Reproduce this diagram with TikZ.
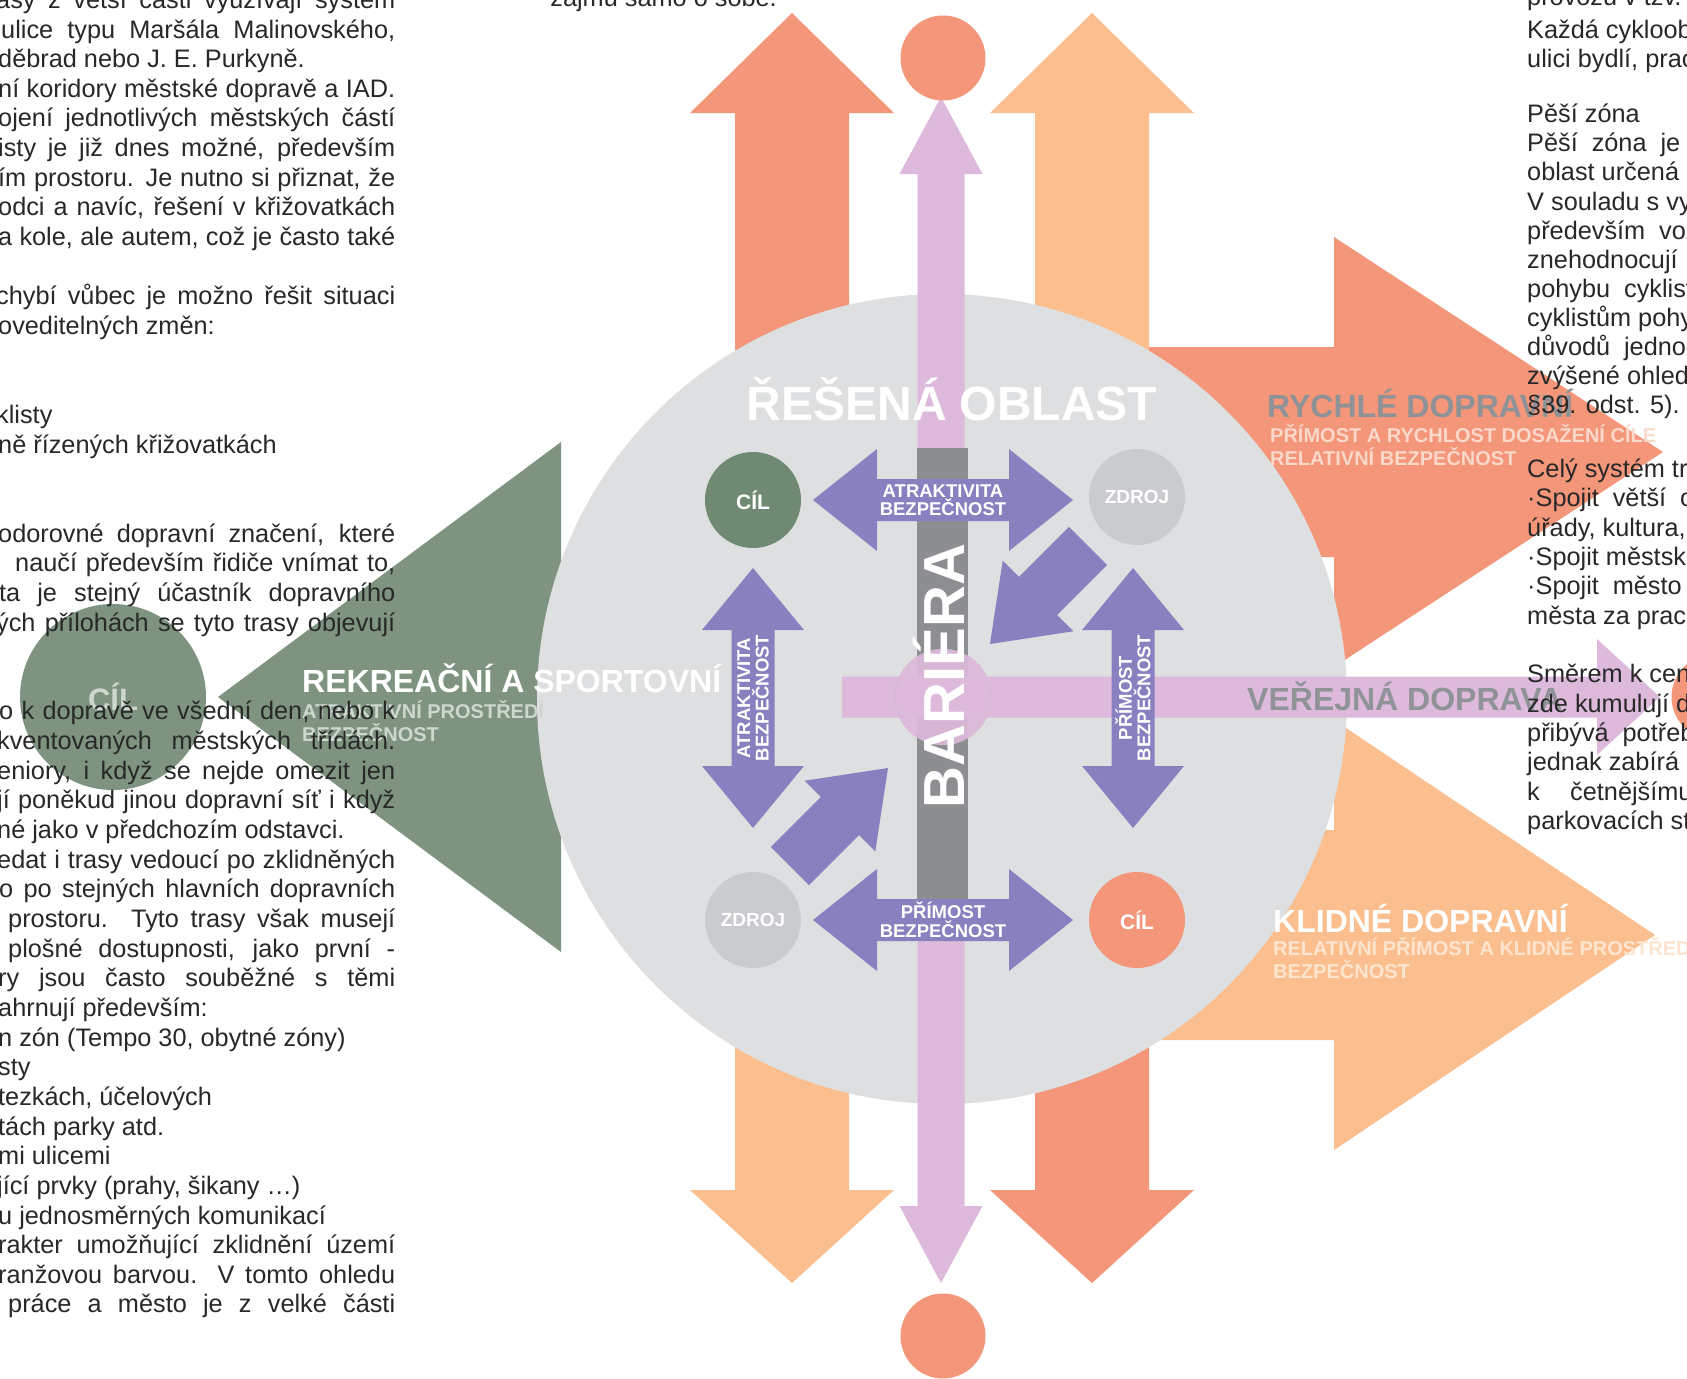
\documentclass[tikz,border=0pt]{standalone}
\usepackage{fontspec}
\setmainfont{Liberation Sans}
\usetikzlibrary{calc}
\definecolor{salmon}{RGB}{243,150,122}
\definecolor{peach}{RGB}{251,191,143}
\definecolor{lilac}{RGB}{221,186,219}
\definecolor{arrowviolet}{RGB}{136,129,191}
\definecolor{areagray}{RGB}{221,223,225}
\definecolor{barriergray}{RGB}{140,142,145}
\definecolor{parkgreen}{RGB}{126,147,128}
\definecolor{goalgreen}{RGB}{112,137,114}
\definecolor{sourcegray}{RGB}{201,203,206}
\definecolor{labelgray}{RGB}{143,146,151}
\definecolor{ink}{RGB}{40,40,40}
\definecolor{salmonlight}{RGB}{250,216,202}
\definecolor{peachlight}{RGB}{253,229,207}
\definecolor{greenlight}{RGB}{206,215,206}
\tikzset{
  bodytext/.style={
    font=\fontsize{25.3}{29.65}\selectfont,
    text=ink,
    inner sep=0pt,
    anchor=base west
  },
  title/.style={
    font=\fontsize{32}{34}\selectfont\bfseries,
    inner sep=0pt,
    anchor=base west
  },
  subtitle/.style={
    font=\fontsize{20}{22}\selectfont\bfseries,
    inner sep=0pt,
    anchor=base west
  },
  arrowtext/.style={
    font=\fontsize{18.5}{18.5}\selectfont\bfseries,
    text=white,
    align=center,
    inner sep=0pt
  },
  goal/.style={
    circle,
    minimum size=96pt,
    inner sep=0pt,
    text=white,
    font=\fontsize{21}{21}\selectfont\bfseries
  },
  endgoal/.style={
    circle,
    fill=salmon,
    minimum size=85pt,
    inner sep=0pt
  }
}
% broad arrow: style, tail, tip, shaft half width, head half width, head length
\newcommand{\fatarrow}[6]{%
  \coordinate (fa-t) at #2;
  \coordinate (fa-p) at #3;
  \coordinate (fa-h) at ($(fa-p)!#6pt!(fa-t)$);
  \fill[#1] ($(fa-t)!#4pt!90:(fa-p)$) -- ($(fa-h)!#4pt!-90:(fa-t)$)
    -- ($(fa-h)!#5pt!-90:(fa-t)$) -- (fa-p) -- ($(fa-h)!#5pt!90:(fa-t)$)
    -- ($(fa-h)!#4pt!90:(fa-t)$) -- ($(fa-t)!#4pt!-90:(fa-p)$) -- cycle;}
% arrow with two heads
\newcommand{\fatdarrow}[6]{%
  \coordinate (fd-a) at #2;
  \coordinate (fd-b) at #3;
  \coordinate (fd-ha) at ($(fd-a)!#6pt!(fd-b)$);
  \coordinate (fd-hb) at ($(fd-b)!#6pt!(fd-a)$);
  \fill[#1] (fd-a) -- ($(fd-ha)!#5pt!90:(fd-b)$) -- ($(fd-ha)!#4pt!90:(fd-b)$)
    -- ($(fd-hb)!#4pt!-90:(fd-a)$) -- ($(fd-hb)!#5pt!-90:(fd-a)$) -- (fd-b)
    -- ($(fd-hb)!#5pt!90:(fd-a)$) -- ($(fd-hb)!#4pt!90:(fd-a)$)
    -- ($(fd-ha)!#4pt!-90:(fd-b)$) -- ($(fd-ha)!#5pt!-90:(fd-b)$) -- cycle;}
\newcounter{txtline}
\newcommand{\jline}[3]{\stepcounter{txtline}%
  \node[bodytext] (line\arabic{txtline}) at (#1,{38+29.65*#2})
    {\hbox to \dimexpr395pt-#1pt\relax{\spaceskip=.278em plus 1fil minus .08em\relax#3}};}
\newcommand{\lline}[3]{\stepcounter{txtline}%
  \node[bodytext] (line\arabic{txtline}) at (#1,{38+29.65*#2}) {#3};}
\newcommand{\rline}[2]{\stepcounter{txtline}%
  \node[bodytext] (line\arabic{txtline}) at (1527,#1) {#2};}
\newcommand{\ws}{\hskip .55em\relax}

\begin{document}
\begin{tikzpicture}[x=1pt, y=-1pt]
  \useasboundingbox (0,0) rectangle (1687,1379);
  \clip (0,0) rectangle (1687,1379);
  \fill[white] (0,0) rectangle (1687,1379);

  % arrows leaving the area
  \fatarrow{fill=salmon}{(1000,452)}{(1663,452)}{105}{215}{329}
  \fatarrow{fill=peach}{(1000,935)}{(1655,935)}{105}{215}{321}
  \fatarrow{fill=salmon}{(792,700)}{(792,13)}{57}{102}{100}
  \fatarrow{fill=peach}{(1092,700)}{(1092,13)}{57}{102}{100}
  \fatarrow{fill=peach}{(792,700)}{(792,1283)}{57}{102}{93}
  \fatarrow{fill=salmon}{(1092,700)}{(1092,1283)}{57}{102}{93}
  \fatarrow{fill=parkgreen}{(700,697)}{(218,697)}{120}{255}{343}

  \node[circle, fill=areagray, minimum size=810pt, inner sep=0pt] (area) at (942,699) {};

  \fatdarrow{fill=lilac}{(941,97)}{(941,1283)}{23.5}{41.5}{77}
  \fill[barriergray] (917,448) rectangle (968,915);
  \fatarrow{fill=lilac}{(842,697)}{(1660,697)}{20.5}{58}{63}

  % inner arrows
  \fatdarrow{fill=arrowviolet}{(813,500)}{(1073,500)}{21}{51}{64}
  \fatdarrow{fill=arrowviolet}{(813,920)}{(1073,920)}{21}{51}{64}
  \fatdarrow{fill=arrowviolet}{(753,568)}{(753,828)}{21.5}{51}{62}
  \fatdarrow{fill=arrowviolet}{(1133,568)}{(1133,828)}{21.5}{51}{62}
  \fatarrow{fill=arrowviolet}{(1088,546)}{(990,644)}{27}{50}{68}
  \fatarrow{fill=arrowviolet}{(790,866)}{(888,768)}{27}{50}{68}

  \node[circle, fill=lilac, draw=lilac!88!gray, fill opacity=.93, minimum size=96pt] (cross) at (943,697) {};

  \node[goal, fill=goalgreen] (cilA) at (753,500) {CÍL};
  \node[goal, fill=sourcegray, font=\fontsize{19}{19}\selectfont\bfseries] (zdrojA) at (1137,497) {ZDROJ};
  \node[goal, fill=sourcegray, font=\fontsize{19}{19}\selectfont\bfseries] (zdrojB) at (753,920) {ZDROJ};
  \node[goal, fill=salmon] (cilB) at (1137,920) {CÍL};
  \node[endgoal] (goalN) at (943,58) {};
  \node[endgoal] (goalS) at (943,1336) {};
  \node[endgoal] (goalE) at (1714,697) {};
  \node[circle, fill=parkgreen, minimum size=186pt, inner sep=0pt, text=greenlight,
    font=\fontsize{31}{31}\selectfont\bfseries] (cilW) at (113,697) {CÍL};

  \node[arrowtext] (atTop) at (943,500) {ATRAKTIVITA\\BEZPEČNOST};
  \node[arrowtext] (prBottom) at (943,920) {PŘÍMOST\\BEZPEČNOST};
  \node[arrowtext, rotate=90] (atLeft) at (753,698) {ATRAKTIVITA\\BEZPEČNOST};
  \node[arrowtext, rotate=90] (prRight) at (1133,698) {PŘÍMOST\\BEZPEČNOST};

  \node[font=\fontsize{58}{58}\selectfont\bfseries, text=white, rotate=90, anchor=base, inner sep=0pt] (barrier) at (964,676) {BARIÉRA};
  \node[font=\fontsize{48}{48}\selectfont\bfseries, text=white, anchor=base, inner sep=0pt] (areaTitle) at (952,420) {ŘEŠENÁ OBLAST};

  % labels of the arrows
  \node[title, text=labelgray] (rychle) at (1267,417) {RYCHLÉ DOPRAVNÍ};
  \node[subtitle, text=salmonlight] (rychleA) at (1270,442) {PŘÍMOST A RYCHLOST DOSAŽENÍ CÍLE};
  \node[subtitle, text=salmonlight] (rychleB) at (1270,465) {RELATIVNÍ BEZPEČNOST};
  \node[title, text=white] (klidne) at (1273,932) {KLIDNÉ DOPRAVNÍ};
  \node[subtitle, text=peachlight] (klidneA) at (1273,955) {RELATIVNÍ PŘÍMOST A KLIDNÉ PROSTŘEDÍ};
  \node[subtitle, text=peachlight] (klidneB) at (1273,978) {BEZPEČNOST};
  \node[title, text=labelgray] (verejna) at (1247,710) {VEŘEJNÁ DOPRAVA};
  \node[title, text=white] (rekreace) at (302,692) {REKREAČNÍ A SPORTOVNÍ};
  \node[subtitle, text=greenlight] (rekreaceA) at (302,718) {ATRAKTIVNÍ PROSTŘEDÍ};
  \node[subtitle, text=greenlight] (rekreaceB) at (302,741) {BEZPEČNOST};

  % page text round the figure
  \node[bodytext, anchor=base east] (topline) at (777,6) {zájmu samo o sobě.};

  \jline{-4}{-1}{asy z větší části využívají systém}
  \jline{1}{0}{ulice typu Maršála Malinovského,}
  \lline{-2}{1}{děbrad nebo J. E. Purkyně.}
  \jline{-2}{2}{ní koridory městské dopravě a IAD.}
  \jline{-2}{3}{ojení jednotlivých městských částí}
  \jline{-2}{4}{isty je již dnes možné, především}
  \jline{-2}{5}{ím prostoru. Je nutno si přiznat, že}
  \jline{-2}{6}{odci a navíc, řešení v křižovatkách}
  \jline{-2}{7}{a kole, ale autem, což je často také}
  \jline{-4}{9}{chybí vůbec je možno řešit situaci}
  \lline{-2}{10}{oveditelných změn:}
  \lline{-4}{13}{klisty}
  \lline{-2}{14}{ně řízených křižovatkách}
  \jline{-2}{17}{odorovné dopravní značení, které}
  \jline{15}{18}{naučí především řidiče vnímat to,}
  \jline{-1}{19}{ta je stejný účastník dopravního}
  \jline{-4}{20}{ých přílohách se tyto trasy objevují}
  \jline{-1}{23}{o k dopravě ve všední den, nebo k}
  \jline{-3}{24}{kventovaných městských třídách.}
  \jline{-3}{25}{eniory, i když se nejde omezit jen}
  \jline{-3}{26}{jí poněkud jinou dopravní síť i když}
  \lline{-3}{27}{né jako v předchozím odstavci.}
  \jline{-3}{28}{edat i trasy vedoucí po zklidněných}
  \jline{-1}{29}{o po stejných hlavních dopravních}
  \jline{8}{30}{prostoru.\ \ Tyto trasy však musejí}
  \jline{8}{31}{plošné dostupnosti, jako první -}
  \jline{-2}{32}{ry jsou často souběžné s těmi}
  \lline{-2}{33}{ahrnují především:}
  \lline{-2}{34}{n zón (Tempo 30, obytné zóny)}
  \lline{-2}{35}{sty}
  \lline{-2}{36}{tezkách, účelových}
  \lline{-2}{37}{tách parky atd.}
  \lline{-2}{38}{mi ulicemi}
  \lline{-3}{39}{jící prvky (prahy, šikany …)}
  \lline{-2}{40}{u jednosměrných komunikací}
  \jline{-2}{41}{rakter umožňující zklidnění území}
  \jline{-2}{42}{ranžovou barvou. V tomto ohledu}
  \jline{8}{43}{práce a město je z velké části}

  \rline{5}{provozu v tzv.}
  \rline{38}{Každá cyklooblast}
  \rline{67}{ulici bydlí, pracuje}
  \rline{122}{Pěší zóna}
  \rline{151}{Pěší\ws zóna\ws je\ws vymezená}
  \rline{180}{oblast určená pro pěší}
  \rline{210}{V souladu s vyhláškou}
  \rline{239}{především\ws vozidla}
  \rline{268}{znehodnocují\ws prostor}
  \rline{297}{pohybu\ws cyklistů}
  \rline{326}{cyklistům pohyb}
  \rline{355}{důvodů\ws jednoduchosti}
  \rline{384}{zvýšené ohleduplnosti}
  \rline{413}{§39. odst. 5).}
  \rline{477}{Celý systém tras}
  \rline{506}{·Spojit\ws větší\ws oblasti}
  \rline{536}{úřady, kultura, školy}
  \rline{565}{·Spojit městské části}
  \rline{594}{·Spojit\ws město\ws s okolím}
  \rline{624}{města za prací}
  \rline{682}{Směrem k centru}
  \rline{712}{zde kumulují dopravu}
  \rline{741}{přibývá\ws potřeba}
  \rline{770}{jednak zabírá}
  \rline{800}{k\hskip 1.2em četnějšímu}
  \rline{829}{parkovacích stání}
\end{tikzpicture}
\end{document}
